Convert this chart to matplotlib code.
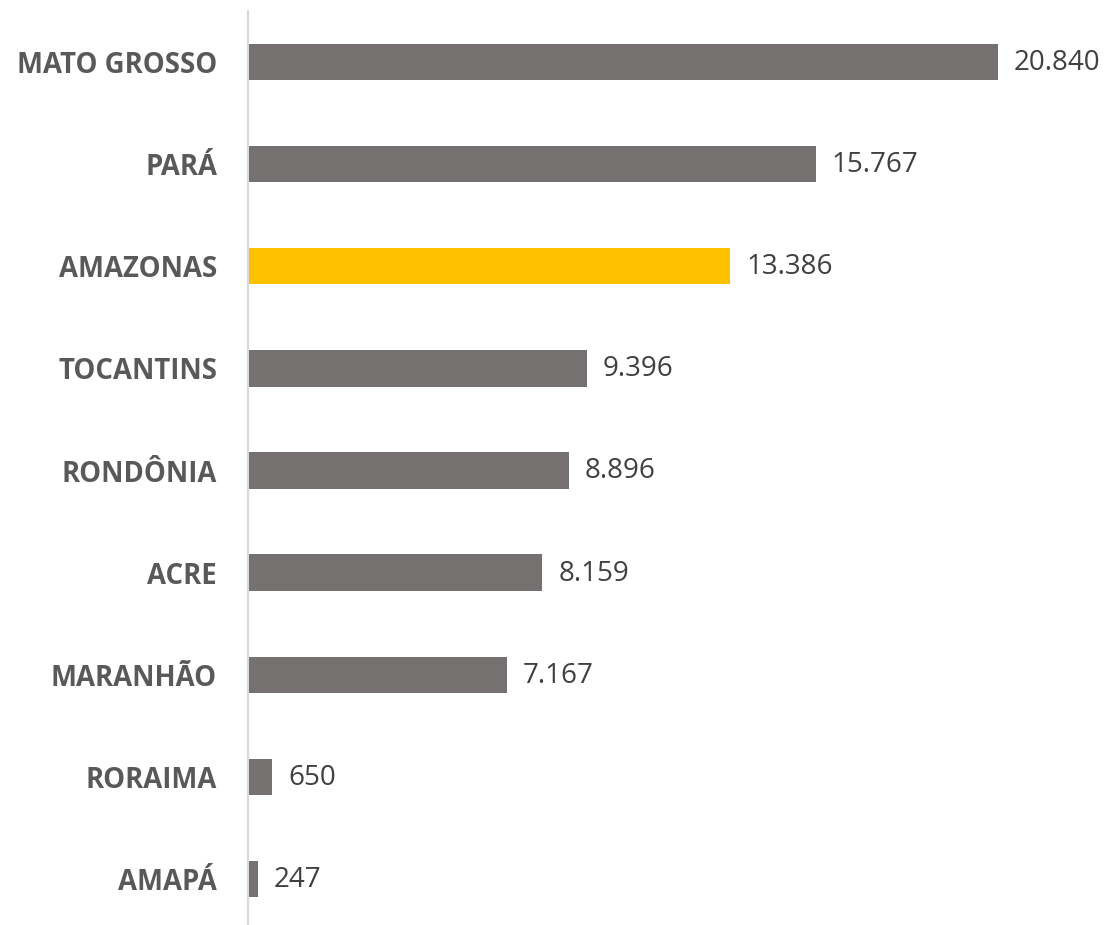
import matplotlib
matplotlib.use("Agg")
import matplotlib.pyplot as plt

states = ["MATO GROSSO", "PARÁ", "AMAZONAS", "TOCANTINS", "RONDÔNIA", "ACRE",
          "MARANHÃO", "RORAIMA", "AMAPÁ"]
values = [20840, 15767, 13386, 9396, 8896, 8159, 7167, 650, 247]
value_labels = ["20.840", "15.767", "13.386", "9.396", "8.896", "8.159", "7.167", "650", "247"]
highlight = "AMAZONAS"

GRAY = "#767171"
GOLD = "#FFC000"

plt.rcParams['font.family'] = ['Open Sans', 'DejaVu Sans']

fig = plt.figure(figsize=(11.09, 9.25), dpi=100)
W, H = 1109, 925
ax = fig.add_axes([249 / W, (925 - 930) / H, (W - 249) / W, 919 / H])

for side in ["top", "right", "bottom"]:
    ax.spines[side].set_visible(False)
ax.spines["left"].set_color("#D9D9D9")
ax.spines["left"].set_linewidth(1.5)
ax.spines["left"].set_position(("outward", 1))

ypos = list(range(len(states)))
colors = [GOLD if s == highlight else GRAY for s in states]
ax.barh(ypos, values, height=0.355, color=colors, left=0)
ax.set_ylim(len(states) - 0.5, -0.5)
ax.set_xlim(0, (W - 249) / 0.03594)

for y, v, lab in zip(ypos, values, value_labels):
    ax.annotate(lab, xy=(v, y), xytext=(16, -1), textcoords="offset pixels",
                va="center", ha="left", fontsize=20, color="#404040")

ax.set_yticks(ypos)
ax.set_yticklabels(states, fontweight="bold", fontsize=19.8, color="#595959")
ax.tick_params(axis="y", length=0, pad=22)
ax.set_xticks([])

fig.savefig("out.png", dpi=100)
